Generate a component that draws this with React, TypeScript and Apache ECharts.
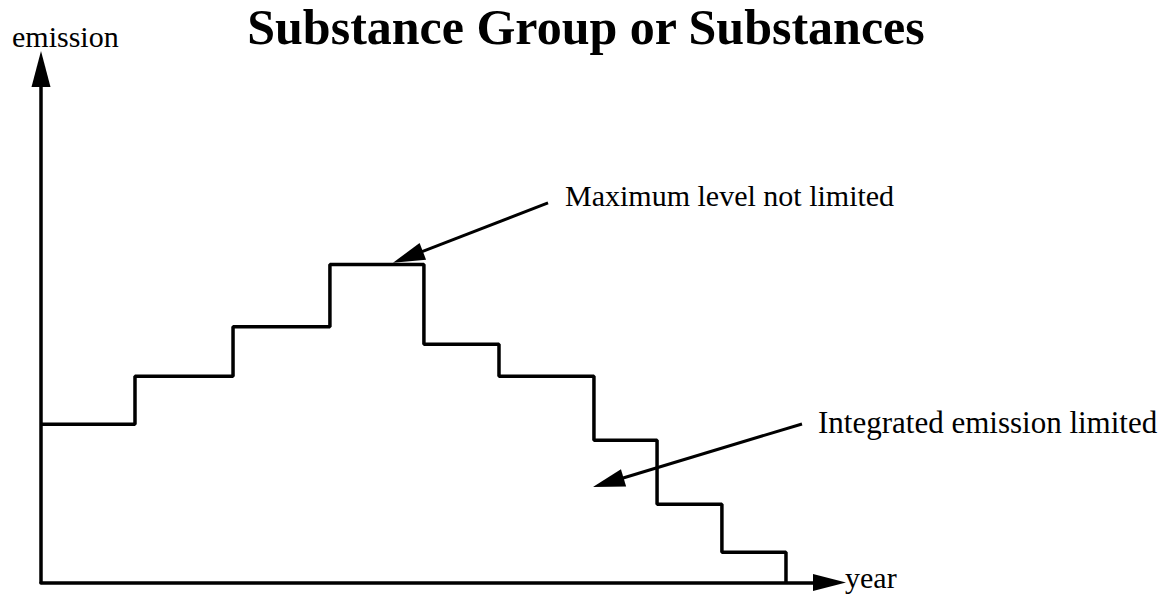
import React, { useEffect, useRef } from "react";
import * as echarts from "echarts";

const titleText = "Substance Group or Substances";
const yAxisName = "emission";
const xAxisName = "year";

// step edges (time units) and emission levels of each step
const years = [0, 4.87, 9.95, 14.97, 19.84, 23.73, 28.65, 31.92, 35.28, 38.6];
const emissions = [9.9, 12.9, 16, 19.9, 14.9, 12.9, 8.9, 4.9, 1.9, 0];

// annotations: label and arrow [from, to] in data units
const maxLabel = "Maximum level not limited";
const maxArrowFrom = [26.27, 23.75];
const maxArrowTo = [19.01, 20.36];
const intLabel = "Integrated emission limited";
const intArrowFrom = [39.43, 9.92];
const intArrowTo = [29.39, 6.26];

const FONT = "'Liberation Serif', 'Times New Roman', serif";

export default function App() {
  const ref = useRef<HTMLDivElement>(null);
  useEffect(() => {
    if (!ref.current) return;
    const chart = echarts.init(ref.current, null, { renderer: "svg" });
    const data = years.map((x, i) => [x, emissions[i]]);
    chart.setOption({
      animation: false,
      backgroundColor: "#ffffff",
      grid: { left: 41, right: 349, top: 87, bottom: 13.5, containLabel: false },
      xAxis: {
        type: "value",
        min: 0,
        max: 40,
        axisLine: {
          show: true,
          lineStyle: { color: "#000", width: 3.5 },
          symbol: ["none", "triangle"],
          symbolSize: [17, 33],
          symbolOffset: [0, 16.5],
        },
        axisTick: { show: false },
        axisLabel: { show: false },
        splitLine: { show: false },
      },
      yAxis: {
        type: "value",
        min: 0,
        max: 31,
        axisLine: {
          show: true,
          lineStyle: { color: "#000", width: 3.5 },
          symbol: ["none", "triangle"],
          symbolSize: [19, 36],
          symbolOffset: [0, 18],
        },
        axisTick: { show: false },
        axisLabel: { show: false },
        splitLine: { show: false },
      },
      series: [
        {
          type: "line",
          step: "end",
          data,
          showSymbol: false,
          silent: true,
          lineStyle: { color: "#000", width: 3.5 },
          markLine: {
            silent: true,
            animation: false,
            symbol: ["none", "triangle"],
            symbolSize: [18, 32],
            label: { show: false },
            lineStyle: { color: "#000", width: 3, type: "solid" },
            emphasis: { disabled: true },
            data: [
              [{ coord: maxArrowFrom }, { coord: maxArrowTo }],
              [{ coord: intArrowFrom }, { coord: intArrowTo }],
            ],
          },
        },
      ],
      graphic: [
        {
          type: "text",
          x: 586,
          y: 27,
          style: {
            text: titleText,
            font: `bold 50px ${FONT}`,
            fill: "#000",
            align: "center",
            verticalAlign: "middle",
          },
        },
        {
          type: "text",
          x: 12,
          y: 36,
          style: {
            text: yAxisName,
            font: `30px ${FONT}`,
            fill: "#000",
            align: "left",
            verticalAlign: "middle",
          },
        },
        {
          type: "text",
          x: 845,
          y: 577,
          style: {
            text: xAxisName,
            font: `30px ${FONT}`,
            fill: "#000",
            align: "left",
            verticalAlign: "middle",
          },
        },
        {
          type: "text",
          x: 565,
          y: 195,
          style: {
            text: maxLabel,
            font: `30px ${FONT}`,
            fill: "#000",
            align: "left",
            verticalAlign: "middle",
          },
        },
        {
          type: "text",
          x: 818,
          y: 422,
          style: {
            text: intLabel,
            font: `31px ${FONT}`,
            fill: "#000",
            align: "left",
            verticalAlign: "middle",
          },
        },
      ],
    });
    return () => chart.dispose();
  }, []);
  return (
    <div
      ref={ref}
      style={{ position: "fixed", left: 0, top: 0, width: 1162, height: 596 }}
    />
  );
}
